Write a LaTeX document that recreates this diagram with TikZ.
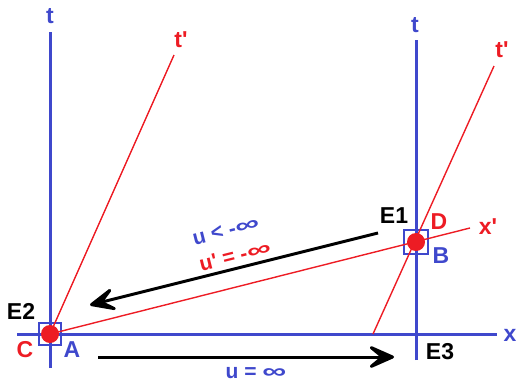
\documentclass[tikz,border=0pt]{standalone}
\usepackage{fontspec}
\setmainfont{Liberation Sans}[Ligatures=TeXOff]
\usepackage{graphicx}
\usetikzlibrary{arrows.meta, positioning}
\definecolor{PaintBlue}{RGB}{63, 72, 204}
\definecolor{PaintRed}{RGB}{237, 28, 36}
\newcommand{\wideinf}{\scalebox{1.6}[1]{∞}}
\tikzset{
  axisline/.style={draw=PaintBlue, line width=3pt},
  frameline/.style={draw=PaintRed, line width=1.4pt},
  moveline/.style={draw=black, line width=3pt, -{Stealth[length=34pt, width=30pt, inset=18pt, round]}},
  eventbox/.style={draw=PaintBlue, line width=2.8pt, minimum size=22pt, inner sep=0pt},
  eventdot/.style={fill=PaintRed, circle, minimum size=18pt, inner sep=0pt},
  lbl/.style={font=\fontsize{23}{26}\selectfont\bfseries, inner sep=0pt},
  ulbl/.style={font=\fontsize{21}{24}\selectfont\bfseries, inner sep=0pt}
}

\begin{document}
\begin{tikzpicture}[x=1pt, y=-1pt]
  \useasboundingbox (0,0) rectangle (516,381);
  % rest frame
  \coordinate (A) at (50,334);
  \coordinate (B) at (416,242);
  \coordinate (tLbot) at (50,368);
  \coordinate (tLtop) at (50,32);
  \coordinate (tRbot) at (416,360);
  \coordinate (tRtop) at (416,40);
  \coordinate (xLeft) at (17,334);
  \coordinate (xRight) at (497,334);
  \draw[axisline] (tLbot) -- (tLtop);
  \draw[axisline] (tRbot) -- (tRtop);
  \draw[axisline] (xLeft) -- (xRight);
  \node[eventbox] (boxA) at (A) {};
  \node[eventbox, minimum size=24pt] (boxB) at (B) {};
  % moving frame
  \coordinate (tpLtop) at (174,55);
  \coordinate (tpRbot) at (373,334);
  \coordinate (tpRtop) at (494,66);
  \coordinate (xpRight) at (470,228);
  \draw[frameline] (A) -- (tpLtop);
  \draw[frameline] (tpRbot) -- (tpRtop);
  \draw[frameline] (A) -- (xpRight);
  \node[eventdot] (dotA) at (A) {};
  \node[eventdot, minimum width=16pt] (dotB) at (B) {};
  % axis names
  \node[lbl, text=PaintBlue] (tLeft) at (50,16) {t};
  \node[lbl, text=PaintBlue] (tRight) at (415,25) {t};
  \node[lbl, text=PaintBlue] (xName) at (510,335) {x};
  \node[lbl, text=PaintRed] (tpLeft) at (181,40) {t'};
  \node[lbl, text=PaintRed] (tpRight) at (502,50) {t'};
  \node[lbl, text=PaintRed] (xpName) at (488,227) {x'};
  % events
  \node[lbl] (E1) at (394,216) {E1};
  \node[lbl] (E2) at (21,311) {E2};
  \node[lbl] (E3) at (440,352) {E3};
  \node[lbl, text=PaintRed] (D) at (439,222) {D};
  \node[lbl, text=PaintBlue] (Bname) at (441,256) {B};
  \node[lbl, text=PaintRed] (C) at (25,350) {C};
  \node[lbl, text=PaintBlue] (Aname) at (72,350) {A};
  % signals
  \coordinate (sigStart) at (378,233);
  \coordinate (sigEnd) at (90,305);
  \draw[moveline] (sigStart) -- (sigEnd);
  \coordinate (runStart) at (98,357);
  \coordinate (runEnd) at (394,357);
  \draw[moveline] (runStart) -- (runEnd);
  \node[ulbl, rotate=14, text=PaintBlue] (uBack) at (226,231) {u < -\wideinf};
  \node[ulbl, rotate=14, text=PaintRed] (upBack) at (235,256) {u' = -\wideinf};
  \node[ulbl, text=PaintBlue] (uRun) at (256,373) {u = \wideinf};
\end{tikzpicture}
\end{document}
